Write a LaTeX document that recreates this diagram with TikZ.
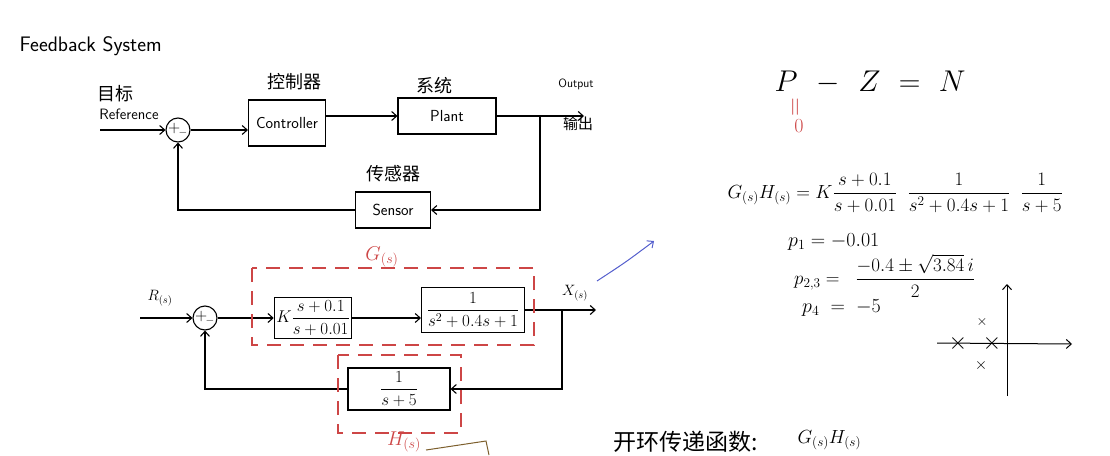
\RequirePackage{fix-cm}
\documentclass[tikz,border=0pt]{standalone}
\usepackage{fontspec}
\newfontfamily\cjk{Noto Sans CJK SC}
\usetikzlibrary{arrows.meta, positioning, calc}
\usepackage{amsmath}

\definecolor{markred}{RGB}{205,70,70}
\definecolor{penblue}{RGB}{85,95,205}
\definecolor{penbrown}{RGB}{125,95,45}

\begin{document}
\begin{tikzpicture}[
    x=1pt, y=-1pt,
    >={Straight Barb[length=5pt, width=9pt]},
    blk/.style={draw, line width=1.1pt, inner sep=2pt, font=\sffamily\fontsize{16}{18}\selectfont},
    sumnode/.style={draw, circle, line width=1.1pt, minimum size=24pt, inner sep=0pt,
                    font=\fontsize{16}{16}\selectfont},
    arr/.style={->, line width=1.1pt},
    lbl/.style={font=\sffamily\fontsize{15}{17}\selectfont},
    cn/.style={font=\cjk\fontsize{18}{20}\selectfont},
    mth/.style={font=\fontsize{17}{20}\selectfont},
    redbox/.style={draw=markred, line width=1.2pt, dash pattern=on 14pt off 9pt},
]
\useasboundingbox (0,0) rectangle (1110,455);

% ---- Title ----
\node[font=\sffamily\fontsize{21}{24}\selectfont, anchor=west] (title) at (16,46) {Feedback System};

% ---- Top loop: blocks ----
\node[sumnode] (sum1) at (178,130) {$+_{\!-}$};
\node[blk, minimum width=77pt, minimum height=46pt] (ctrl) at (287,123) {Controller};
\node[blk, minimum width=98pt, minimum height=36pt] (plant) at (447,116) {Plant};
\node[blk, minimum width=75pt, minimum height=36pt] (sensor) at (393,210) {Sensor};

% labels
\node[cn] (cnref) at (115,94) {目标};
\node[lbl] (ref) at (129,114) {Reference};
\node[cn] (cnctrl) at (294,82) {控制器};
\node[cn] (cnplant) at (434,86) {系统};
\node[font=\sffamily\fontsize{12}{14}\selectfont] (outtxt) at (576,84) {Output};
\node[cn, font=\cjk\fontsize{15}{17}\selectfont] (cnout) at (578,124) {输出};
\node[cn] (cnsens) at (393,174) {传感器};

% wires
\coordinate (refin) at (100,130);
\coordinate (tap1) at (540,116);
\coordinate (out1) at (584,116);
\draw[arr] (refin) -- (sum1.west);
\draw[arr] (sum1.east) -- (sum1.east -| ctrl.west);
\draw[arr] (ctrl.east |- plant.west) -- (plant.west);
\draw[arr] (plant.east) -- (out1);
\draw[arr] (tap1) |- (sensor.east);
\draw[arr] (sensor.west) -| (sum1.south);

% ---- Bottom loop: transfer functions ----
\node[sumnode] (sum2) at (205,318) {$+_{\!-}$};
\node[blk, minimum width=77pt, minimum height=41pt, mth] (blk1) at (313,318)
    {$K\dfrac{s+0.1}{s+0.01}$};
\node[blk, minimum width=103pt, minimum height=45pt, mth] (blk2) at (473,310)
    {$\dfrac{1}{s^2+0.4s+1}$};
\node[blk, minimum width=102pt, minimum height=42pt, mth] (blk3) at (399,389)
    {$\dfrac{1}{s+5}$};

\node[mth, font=\fontsize{15}{17}\selectfont] (rlab) at (160,298) {$R_{(s)}$};
\node[mth, font=\fontsize{15}{17}\selectfont] (xlab) at (575,293) {$X_{(s)}$};

\coordinate (rin) at (140,318);
\coordinate (tap2) at (562,310);
\coordinate (out2) at (596,310);
\draw[arr] (rin) -- (sum2.west);
\draw[arr] (sum2.east) -- (blk1.west);
\draw[arr] (blk1.east) -- (blk1.east -| blk2.west);
\draw[arr] (blk2.east) -- (out2);
\draw[arr] (tap2) |- (blk3.east);
\draw[arr] (blk3.west) -| (sum2.south);

% G(s) and H(s) groups
\draw[redbox] (252,268) rectangle (534,345);
\draw[redbox] (338,355) rectangle (461,433);
\node[text=markred, mth, font=\fontsize{20}{22}\selectfont] (glab) at (382,257) {$G_{(s)}$};
\node[text=markred, mth, font=\fontsize{20}{22}\selectfont] (hlab) at (404,442) {$H_{(s)}$};

% stray pen marks
\draw[penbrown, line width=1pt] (426,450) -- (486,441) -- (489,455);
\coordinate (bstart) at (597,281);
\coordinate (bend) at (654,241);
\draw[->, penblue, line width=1pt] (bstart) .. controls (626,262) .. (bend);

% ---- Right side: criterion and poles ----
\node[font=\fontsize{30}{34}\selectfont] (pzn) at (870,82)
    {$P\hspace{12pt}-\hspace{12pt}Z\hspace{10pt}=\hspace{10pt}N$};
\node[text=markred, rotate=90, font=\fontsize{26}{26}\selectfont] (peq) at (797,107) {$=$};
\node[text=markred, font=\fontsize{20}{20}\selectfont] (pzero) at (799,126) {$0$};

\node[mth, font=\fontsize{19}{22}\selectfont, anchor=west] (ghdef) at (724,193)
    {$G_{(s)}H_{(s)} = K\dfrac{s+0.1}{s+0.01}\;\;\dfrac{1}{s^2+0.4s+1}\;\;\dfrac{1}{s+5}$};

\node[mth, font=\fontsize{20}{23}\selectfont, anchor=west, inner sep=0pt] (p1) at (788,242) {$p_1 = -0.01$};
\node[mth, font=\fontsize{19}{22}\selectfont, anchor=west, inner sep=0pt] (p23) at (794,276)
    {$p_{2,3} =\;\; \dfrac{-0.4\pm\sqrt{3.84}\,i}{2}$};
\node[mth, font=\fontsize{20}{23}\selectfont, anchor=west, inner sep=0pt] (p4) at (802,308) {$p_4 \;=\; -5$};

% pole plot
\coordinate (rel0) at (937,343);
\coordinate (rel1) at (1072,344);
\coordinate (img0) at (1007,396);
\coordinate (img1) at (1007,284);
\draw[arr, line width=1pt] (rel0) -- (rel1);
\draw[arr, line width=1pt] (img0) -- (img1);
\node[font=\fontsize{24}{24}\selectfont] (pole4) at (958,343) {$\times$};
\node[font=\fontsize{24}{24}\selectfont] (pole1) at (992,343) {$\times$};
\node[font=\fontsize{14}{14}\selectfont] (pole2) at (982,322) {$\times$};
\node[font=\fontsize{16}{16}\selectfont] (pole3) at (981,365) {$\times$};

% ---- Bottom note ----
\node[cn, font=\cjk\fontsize{23}{25}\selectfont, anchor=west] (olnote) at (610,442) {开环传递函数:};
\node[mth, font=\fontsize{19}{21}\selectfont, anchor=west] (olgh) at (794,440) {$G_{(s)}H_{(s)}$};

\end{tikzpicture}
\end{document}
